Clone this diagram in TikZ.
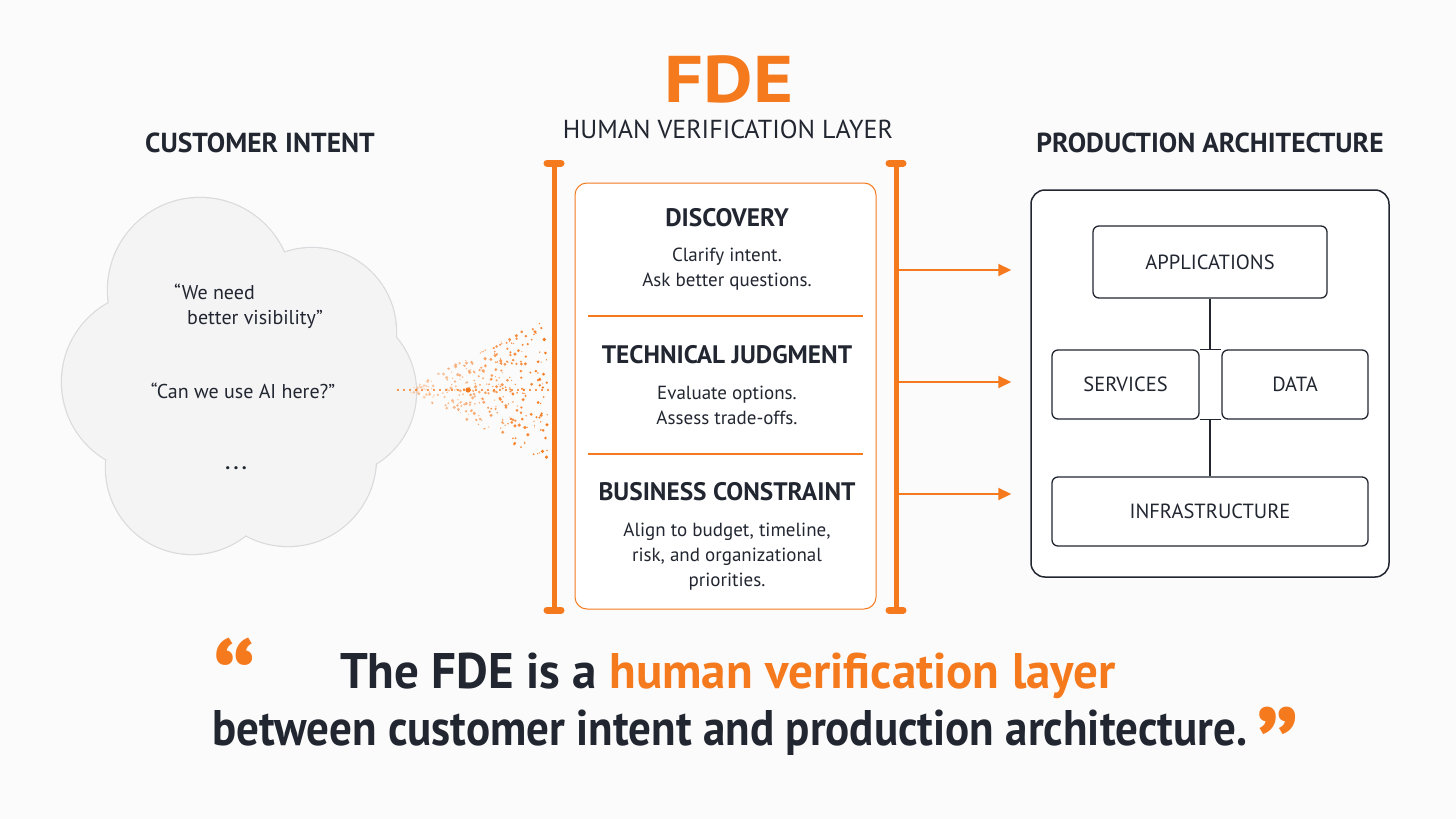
\documentclass[tikz,border=0pt]{standalone}
\usepackage{fontspec}
\setmainfont{PT Sans}
\newfontfamily\cnd{PT Sans}[FakeStretch=0.9]
\newfontfamily\cndA{PT Sans}[FakeStretch=0.98]
\newfontfamily\wde{PT Sans}[FakeStretch=1.16]
\usetikzlibrary{arrows.meta}
\definecolor{org}{RGB}{245,122,30}
\definecolor{ink}{RGB}{33,38,48}
\definecolor{cloudfill}{RGB}{244,244,245}
\definecolor{cloudline}{RGB}{218,218,222}
\definecolor{bg}{RGB}{251,251,251}
\newcommand{\fs}[1]{\fontsize{#1}{#1}\selectfont}
\newcommand{\bigq}[1]{\scalebox{1.6}{\fs{70}\raisebox{-0.44em}[0.29em][0pt]{#1}}}
\begin{document}
\begin{tikzpicture}[x=1pt,y=-1pt,
  title/.style={font=\bfseries\fs{27.5}, text=ink, inner sep=0pt},
  head/.style={font=\bfseries\fs{25.3}, text=ink, inner sep=0pt},
  body/.style={font=\fs{19}, text=ink, inner sep=0pt, align=center},
  layer/.style={draw=ink, line width=1.3pt, rounded corners=6pt, fill=white, font=\fs{20.5}, text=ink},
  bar/.style={org, line width=5pt},
  barcap/.style={org, line width=7pt, line cap=round},
  feed/.style={org, line width=2pt, -{Triangle[length=13pt,width=12pt]}},
  cloudtext/.style={font=\fs{20}, text=ink, inner sep=0pt},
  qmark/.style={font=\bfseries, text=org, inner sep=0pt}
]
\fill[bg] (0,0) rectangle (1456,819);
\useasboundingbox (0,0) rectangle (1456,819);

% titles
\node[font=\wde\bfseries\fs{66}, text=org, inner sep=0pt] (fdetitle) at (729,79) {FDE};
\node[font=\fs{26}, text=ink, inner sep=0pt] (hvl) at (728,129) {HUMAN VERIFICATION LAYER};
\node[title] (ci) at (260,143) {CUSTOMER INTENT};
\node[title] (pa) at (1210,143) {PRODUCTION ARCHITECTURE};

% cloud
\foreach \cx/\cy/\r in {200/290/92, 312/332/84, 152/382/90, 192/468/86, 288/458/88, 332/392/84, 250/380/110}
  \draw[cloudline, line width=2.4pt] (\cx,\cy) circle[radius=\r pt];
\foreach \cx/\cy/\r in {200/290/92, 312/332/84, 152/382/90, 192/468/86, 288/458/88, 332/392/84, 250/380/110}
  \fill[cloudfill] (\cx,\cy) circle[radius=\r pt];
\node[cloudtext, anchor=west] (c1) at (174,292) {“We need};
\node[cloudtext, anchor=west] (c2) at (187,319) {better visibility”};
\node[cloudtext] (c3) at (243,391) {“Can we use AI here?”};
\node[font=\bfseries\fs{20}, text=ink, inner sep=0pt] (c4) at (236,468) {.\,.\,.};

% scattered dots
\pgfmathsetseed{11}
\foreach \i in {1,...,330}{
  \pgfmathsetmacro\u{rnd^0.7}
  \pgfmathsetmacro\xx{410+138*\u}
  \pgfmathsetmacro\yy{390+(\xx-405)*0.5*(2*rnd-1)}
  \pgfmathsetmacro\rr{0.5+1.3*rnd}
  \pgfmathsetmacro\op{0.25+0.75*\u}
  \fill[org, opacity=\op] (\xx,\yy) circle[radius=\rr pt];
}
\foreach \x in {398,404,...,548}
  \fill[org] (\x,390) circle[radius=1.2pt];
\fill[org] (468,390) circle[radius=2.6pt];

% bars
\draw[bar] (554,163) -- (554,610);
\draw[barcap] (547,163) -- (561,163);
\draw[barcap] (547,610) -- (561,610);
\draw[bar] (896,163) -- (896,610);
\draw[barcap] (889,163) -- (903,163);
\draw[barcap] (889,610) -- (903,610);

% FDE panel
\node[draw=org, line width=1pt, rounded corners=12pt, fill=white, minimum width=301pt, minimum height=426pt, inner sep=0pt] (panel) at (725.5,396) {};
\draw[org, line width=1.2pt] (588,316) -- (863,316);
\draw[org, line width=1.2pt] (588,454) -- (863,454);
\node[head] (h1) at (727,218) {DISCOVERY};
\node[body] (b1) at (727,269) {Clarify intent.\\[6pt]Ask better questions.};
\node[head] (h2) at (727,355) {TECHNICAL JUDGMENT};
\node[body] (b2) at (727,405) {Evaluate options.\\[6pt]Assess trade-offs.};
\node[head] (h3) at (727,492) {BUSINESS CONSTRAINT};
\node[body] (b3) at (727,557) {Align to budget, timeline,\\[6pt]risk, and organizational\\[6pt]priorities.};

% production architecture
\node[draw=ink, line width=1.5pt, rounded corners=14pt, fill=white, minimum width=358pt, minimum height=387pt, inner sep=0pt] (prod) at (1210,383.5) {};
\node[layer, minimum width=234pt, minimum height=72pt] (app) at (1210,262) {APPLICATIONS};
\node[layer, minimum width=147pt, minimum height=69pt] (svc) at (1125.5,384.5) {SERVICES};
\node[layer, minimum width=146pt, minimum height=69pt] (data) at (1295,384.5) {DATA};
\node[layer, minimum width=316pt, minimum height=69pt] (infra) at (1210,511.5) {INFRASTRUCTURE};
\draw[ink, line width=1.3pt] (app.south) -- (app.south |- svc.north);
\draw[ink, line width=1.3pt] (app.south |- svc.south) -- (infra.north);
\draw[ink, line width=1.3pt] (svc.north east) -- (data.north west);
\draw[ink, line width=1.3pt] (svc.south east) -- (data.south west);

% feed arrows
\foreach \y/\n in {270/1, 382/2, 494/3}{
  \coordinate (s\n) at (898,\y);
  \draw[feed] (s\n) -- ([xshift=-19pt]prod.west |- s\n);
}

% quote
\node[qmark] (oq) at (235,662) {\bigq{“}};
\node[font=\cndA\bfseries\fs{50}, text=ink, inner sep=0pt] (q1) at (728,676) {The FDE is a \textcolor{org}{human verification layer}};
\node[font=\cnd\bfseries\fs{50}, text=ink, inner sep=0pt] (q2) at (730,733) {between customer intent and production architecture.};
\node[qmark] (cq) at (1278,721) {\bigq{”}};
\end{tikzpicture}
\end{document}
